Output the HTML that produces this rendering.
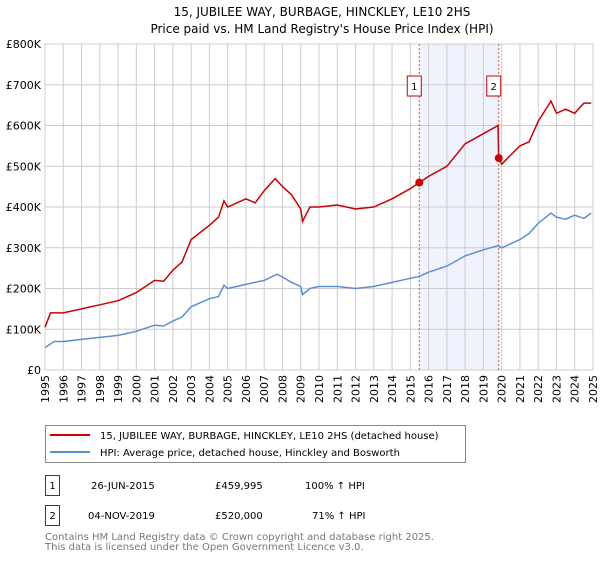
<!DOCTYPE html>
<html><head><meta charset="utf-8"><style>
body{margin:0;background:#fff;font-family:"DejaVu Sans","Liberation Sans",sans-serif;}
svg text{font-family:"DejaVu Sans","Liberation Sans",sans-serif;}
</style></head><body>
<svg id="chart" width="600" height="560" xmlns="http://www.w3.org/2000/svg">
<text x="322" y="16" font-size="12" text-anchor="middle">15, JUBILEE WAY, BURBAGE, HINCKLEY, LE10 2HS</text>
<text x="322" y="33" font-size="12" text-anchor="middle">Price paid vs. HM Land Registry's House Price Index (HPI)</text>
<g id="plot"></g>
<g>
<rect x="45.5" y="425.5" width="420" height="37" fill="#fff" stroke="#888"/>
<line x1="50" y1="435" x2="90" y2="435" stroke="#cc0000" stroke-width="2"/>
<text x="100" y="439" font-size="10">15, JUBILEE WAY, BURBAGE, HINCKLEY, LE10 2HS (detached house)</text>
<line x1="50" y1="452" x2="90" y2="452" stroke="#5b8fd4" stroke-width="2"/>
<text x="100" y="456" font-size="10">HPI: Average price, detached house, Hinckley and Bosworth</text>
</g>
<g font-size="10">
<rect x="45.5" y="475.5" width="14" height="20" fill="#fff" stroke="#cc0000"/>
<text x="52.5" y="489" text-anchor="middle">1</text>
<text x="91" y="489">26-JUN-2015</text><text x="215" y="489">£459,995</text><text x="305" y="489">100% ↑ HPI</text>
<rect x="45.5" y="505.5" width="14" height="20" fill="#fff" stroke="#cc0000"/>
<text x="52.5" y="519" text-anchor="middle">2</text>
<text x="88" y="519">04-NOV-2019</text><text x="215" y="519">£520,000</text><text x="312" y="519">71% ↑ HPI</text>
</g>
<text x="45" y="540" font-size="10" fill="#777">Contains HM Land Registry data © Crown copyright and database right 2025.</text>
<text x="45" y="550" font-size="10" fill="#777">This data is licensed under the Open Government Licence v3.0.</text>
</svg>
<script>
const hpiYears=[1995,1995.5,1996,1997,1998,1999,2000,2001,2001.5,2002,2002.5,2003,2004,2004.5,2004.8,2005,2006,2007,2007.7,2008,2008.5,2009,2009.1,2009.5,2010,2011,2012,2013,2014,2015,2015.5,2016,2017,2018,2019,2019.8,2020,2021,2021.5,2022,2022.7,2023,2023.5,2024,2024.5,2024.9];
const hpiValues=[55,70,70,75,80,85,95,110,108,120,130,155,175,180,208,200,210,220,235,228,215,205,185,200,205,205,200,205,215,225,230,240,255,280,295,305,300,320,335,360,385,375,370,380,372,385];
const paidYears=[1995,1995.3,1996,1997,1998,1999,2000,2001,2001.5,2002,2002.5,2003,2004,2004.5,2004.8,2005,2006,2006.5,2007,2007.6,2008,2008.5,2009,2009.1,2009.5,2010,2011,2012,2013,2014,2015,2015.49,2016,2017,2018,2019,2019.8,2019.84,2020,2021,2021.5,2022,2022.7,2023,2023.5,2024,2024.5,2024.9];
const paidValues=[105,140,140,150,160,170,190,220,218,245,265,320,355,375,415,400,420,410,440,470,450,430,395,365,400,400,405,395,400,420,445,460,475,500,555,580,600,520,505,550,560,610,660,630,640,630,655,655];
const saleYears=[2015.49,2019.84];
const salePrices=[459.995,520];
const saleLabels=["1","2"];
const yTicks=[0,100,200,300,400,500,600,700,800];
const yTickLabels=["£0","£100K","£200K","£300K","£400K","£500K","£600K","£700K","£800K"];
const xTicks=[1995,1996,1997,1998,1999,2000,2001,2002,2003,2004,2005,2006,2007,2008,2009,2010,2011,2012,2013,2014,2015,2016,2017,2018,2019,2020,2021,2022,2023,2024,2025];

const X0=45,X1=593,Y0=370,Y1=44;
const xs=y=>X0+(y-1995)/(2025-1995)*(X1-X0);
const ys=v=>Y0-v/800*(Y0-Y1);
const NS="http://www.w3.org/2000/svg";
const g=document.getElementById('plot');
function mk(t,a){const e=document.createElementNS(NS,t);for(const k in a)e.setAttribute(k,a[k]);g.appendChild(e);return e;}

const shade=mk('rect',{x:xs(saleYears[0]),y:Y1,width:xs(saleYears[1])-xs(saleYears[0]),height:Y0-Y1,fill:'#eef3fd'});



yTicks.forEach((t,i)=>{
 const l=mk('line',{x1:X0,x2:X1,y1:ys(t),y2:ys(t),stroke:'#ccc','stroke-width':1});
 
 
 const tx=mk('text',{x:X0-4,y:ys(t)+4,'font-size':11,'text-anchor':'end'});
 tx.textContent=yTickLabels[i];
 
 
});
xTicks.forEach(t=>{
 const l=mk('line',{x1:xs(t),x2:xs(t),y1:Y1,y2:Y0,stroke:'#ccc','stroke-width':1});
 
 
 const tx=mk('text',{x:0,y:0,'font-size':11,'text-anchor':'end',transform:`translate(${xs(t)+4},${Y0+5}) rotate(-90)`});
 tx.textContent=String(t);
 
 
});
const fr=mk('rect',{x:X0,y:Y1,width:X1-X0,height:Y0-Y1,fill:'none',stroke:'#ccc'});



saleYears.forEach((s,i)=>{
 const l=mk('line',{x1:xs(s),x2:xs(s),y1:Y1,y2:Y0,stroke:'#e05050','stroke-dasharray':'2,2','stroke-width':1});
 
 
 const b=mk('rect',{x:xs(s)-12,y:76,width:14,height:20,fill:'#fff',stroke:'#cc0000'});
 
 
 const t=mk('text',{x:xs(s)-5,y:90,'font-size':10,'text-anchor':'middle'});
 t.textContent=saleLabels[i];
 
 
});

const hp=mk('path',{d:hpiYears.map((y,i)=>(i?'L':'M')+xs(y).toFixed(1)+','+ys(hpiValues[i]).toFixed(1)).join(''),fill:'none',stroke:'#5b8fd4','stroke-width':1.5});


const pp=mk('path',{d:paidYears.map((y,i)=>(i?'L':'M')+xs(y).toFixed(1)+','+ys(paidValues[i]).toFixed(1)).join(''),fill:'none',stroke:'#cc0000','stroke-width':1.5});


saleYears.forEach((s,i)=>{
 const c=mk('circle',{cx:xs(s),cy:ys(salePrices[i]),r:4,fill:'#cc0000'});
 
 
});
</script>
</body></html>
